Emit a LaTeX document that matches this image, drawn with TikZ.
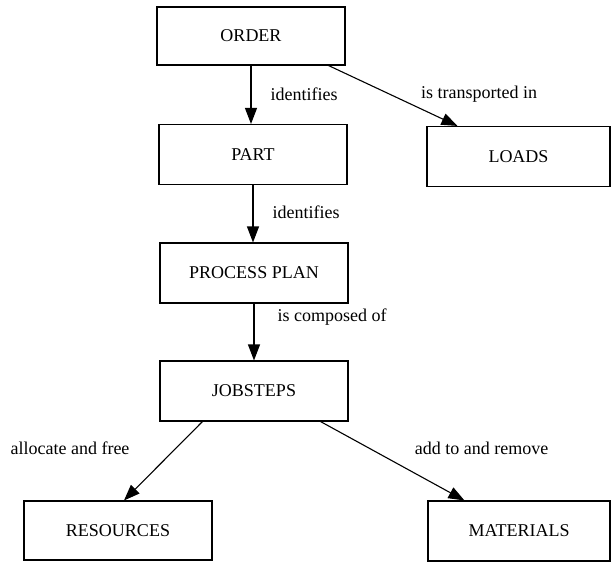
\documentclass[tikz,border=0pt]{standalone}
\usepackage{fontspec}
\setmainfont{Liberation Serif}
\usetikzlibrary{arrows.meta}

\tikzset{
  entity/.style={draw, line width=1.1pt, minimum width=188pt, minimum height=60pt, inner sep=0pt, font=\fontsize{18}{20}\selectfont},
  relation/.style={font=\fontsize{18}{20}\selectfont, inner sep=0pt},
  link/.style={line width=1.1pt, -{Triangle[length=16pt,width=12pt]}}
}

\begin{document}
\begin{tikzpicture}[x=1pt, y=-1pt]
            \useasboundingbox (0,0) rectangle (611,562);
            \node[entity, minimum height=58pt] (order) at (251,36) {ORDER};
            \node[entity] (part) at (253,154.5) {PART};
            \node[entity, minimum width=183pt] (loads) at (518.5,156.5) {LOADS};
            \node[entity] (plan) at (254,273) {PROCESS PLAN};
            \node[entity] (jobsteps) at (254,391) {JOBSTEPS};
            \node[entity, minimum height=59pt] (resources) at (118,530.5) {RESOURCES};
            \node[entity, minimum width=182pt] (materials) at (519,531) {MATERIALS};

            \draw[link] (order.south) -- (order.south |- part.north);
            \draw[link] ([xshift=-17pt]order.south east) -- ([xshift=31pt]loads.north west);
            \draw[link] (part.south) -- (part.south |- plan.north);
            \draw[link] (plan.south) -- (plan.south |- jobsteps.north);
            \draw[link] ([xshift=43pt]jobsteps.south west) -- ([xshift=6pt]resources.north); % vers les ressources
            \draw[link] ([xshift=-28pt]jobsteps.south east) -- ([xshift=37pt]materials.north west); % vers les matieres

            \node[relation] (identifiesA) at (304,94) {identifies};
            \node[relation] (transported) at (479,94) {is transported in};
            \node[relation] (identifiesB) at (306,212) {identifies};
            \node[relation] (composed) at (332,317) {is composed of};
            \node[relation] (allocate) at (70,448) {allocate and free};
            \node[relation] (addremove) at (481.5,448) {add to and remove};
        \end{tikzpicture}
\end{document}
